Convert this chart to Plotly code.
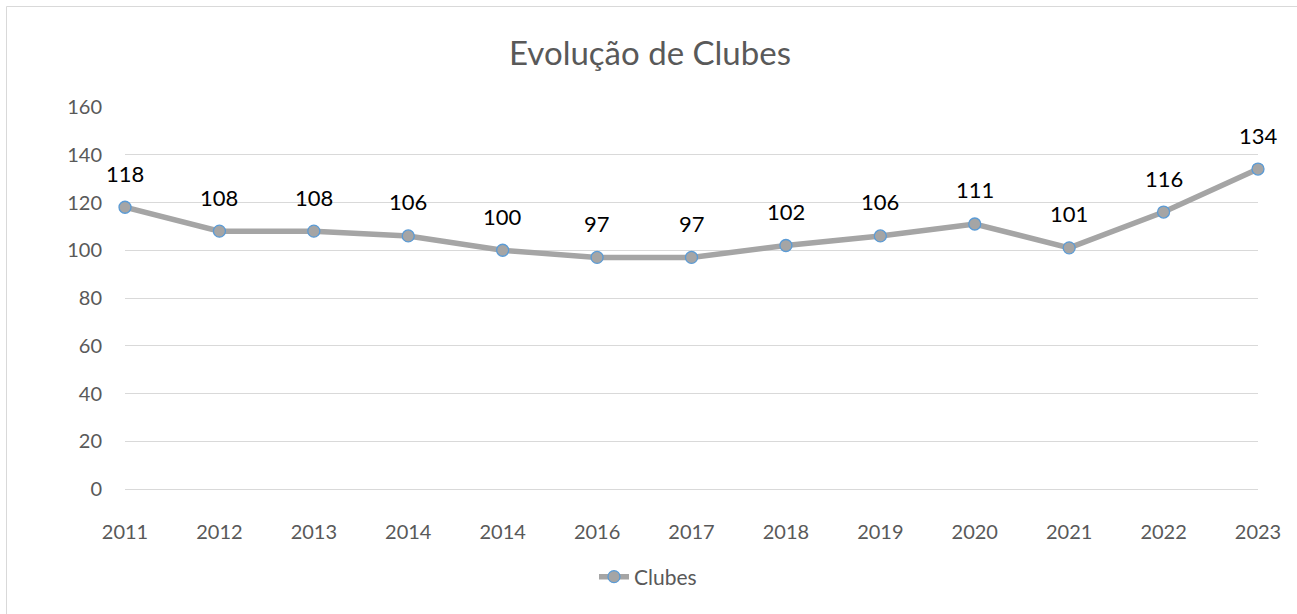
import plotly.graph_objects as go

years = ["2011", "2012", "2013", "2014", "2014", "2016", "2017", "2018", "2019", "2020", "2021", "2022", "2023"]
clubes = [118, 108, 108, 106, 100, 97, 97, 102, 106, 111, 101, 116, 134]
y_ticks = [0, 20, 40, 60, 80, 100, 120, 140, 160]

W, H = 1297, 614
L, R, T, B = 125, 39, 107, 125
pw, ph = W - L - R, H - T - B

xpos = list(range(len(years)))

FONT = "Lato, 'Open Sans', sans-serif"

fig = go.Figure()
fig.add_trace(go.Scatter(
    x=xpos, y=clubes, mode="lines+markers", name="Clubes",
    line=dict(color="#A5A5A5", width=5.5),
    marker=dict(size=12, color="#A5A5A5", line=dict(color="#5B9BD5", width=1.3)),
    cliponaxis=False,
))

for xi, v in zip(xpos, clubes):
    fig.add_annotation(x=xi, y=v, text=str(v), showarrow=False, yshift=34,
                       font=dict(family=FONT, size=22, color="#000000"))

def px_to_paper_x(px):
    return (px - L) / pw

def px_to_paper_y(py):
    return (H - B - py) / ph

# chart-area border (left and top edges visible in the frame)
fig.add_shape(type="line", xref="paper", yref="paper",
              x0=px_to_paper_x(6.5), x1=px_to_paper_x(6.5),
              y0=px_to_paper_y(620), y1=px_to_paper_y(6.5),
              line=dict(color="#D9D9D9", width=1))
fig.add_shape(type="line", xref="paper", yref="paper",
              x0=px_to_paper_x(6.5), x1=px_to_paper_x(1310),
              y0=px_to_paper_y(6.5), y1=px_to_paper_y(6.5),
              line=dict(color="#D9D9D9", width=1))

fig.update_layout(
    width=W, height=H,
    margin=dict(l=L, r=R, t=T, b=B),
    paper_bgcolor="white", plot_bgcolor="white",
    font=dict(family=FONT, color="#595959"),
    title=dict(text="Evolução de Clubes", x=650 / W, xanchor="center",
               y=1 - 53 / H, yanchor="middle", yref="container",
               font=dict(size=33, color="#595959")),
    showlegend=True,
    legend=dict(orientation="h", x=px_to_paper_x(648), xanchor="center",
                y=px_to_paper_y(577), yanchor="middle",
                font=dict(size=21, color="#595959"), bgcolor="rgba(0,0,0,0)"),
    xaxis=dict(tickmode="array", tickvals=xpos, ticktext=years, range=[0, len(years) - 1],
               showgrid=False, zeroline=False, showline=True, linecolor="#D9D9D9", linewidth=1,
               ticks="", tickfont=dict(size=20, color="#595959"), ticklabelstandoff=25),
    yaxis=dict(range=[0, 160], tickvals=y_ticks, showgrid=True, gridcolor="#D9D9D9", gridwidth=1,
               zeroline=False, showline=False, ticks="",
               tickfont=dict(size=20, color="#595959"), ticklabelstandoff=22),
)

fig.write_html("out.html", config={"displayModeBar": False},
               post_script="document.body.style.margin='0';document.documentElement.style.overflow='hidden';")
